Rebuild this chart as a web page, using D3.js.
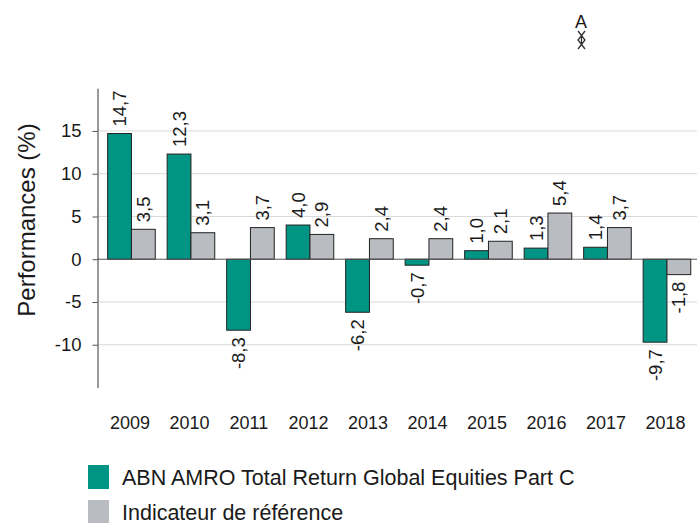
<!DOCTYPE html>
<html lang="en">
	<head>
		<meta charset="utf-8">
		<title>performances</title>
		<script type="text/javascript" src="https://d3js.org/d3.v7.min.js"></script>
		<style type="text/css">
            body{margin:0;background:#fff;font-family:"Liberation Sans",Arial,sans-serif;}
            svg{display:block;}
            text{fill:#1a1a1a;}
		</style>
	</head>
	<body>
    <div id="chart1"></div>
		<script type="text/javascript">
            var years = ["2009","2010","2011","2012","2013","2014","2015","2016","2017","2018"]
            var fundValues = [14.7,12.3,-8.3,4.0,-6.2,-0.7,1.0,1.3,1.4,-9.7]
            var indexValues = [3.5,3.1,3.7,2.9,2.4,2.4,2.1,5.4,3.7,-1.8]
            var seriesNames = ["ABN AMRO Total Return Global Equities Part C","Indicateur de référence"]
            var seriesColors = ["#009484","#b9bcc1"]
            var yTicks = [-10,-5,0,5,10,15]

            var w = 700
            var h = 523
            var svg = d3.select("#chart1").append("svg").attr("width",w).attr("height",h)

            var yScale = d3.scaleLinear().domain([-15,20]).range([387.5,88.2])
            var xScale = d3.scaleBand().domain(years).range([101.7,696.7]).paddingInner(0.2).paddingOuter(0.1)
            var subScale = d3.scaleBand().domain([0,1]).range([0,xScale.bandwidth()])

            //gridlines
            svg.append("g").selectAll("line")
                .data(yTicks.filter(function(d){return d!=0}))
                .enter().append("line")
                .attr("x1",97.5).attr("x2",697)
                .attr("y1",function(d){return yScale(d)})
                .attr("y2",function(d){return yScale(d)})
                .attr("stroke","#d9d9d9").attr("stroke-width",1)

            //bars
            var groups = [fundValues,indexValues]
            groups.forEach(function(values,s){
                svg.append("g").selectAll("rect")
                    .data(values)
                    .enter().append("rect")
                    .attr("x",function(d,i){return xScale(years[i])+subScale(s)})
                    .attr("y",function(d){return yScale(Math.max(d,0))})
                    .attr("width",subScale.bandwidth())
                    .attr("height",function(d){return Math.abs(yScale(d)-yScale(0))})
                    .attr("fill",seriesColors[s])
                    .attr("stroke","#222").attr("stroke-width",1)

                //value labels, rotated
                svg.append("g").selectAll("text")
                    .data(values)
                    .enter().append("text")
                    .attr("transform",function(d,i){
                        var x = xScale(years[i])+subScale(s)+subScale.bandwidth()/2+6.5
                        var y = d>=0 ? yScale(d)-7 : yScale(d)+7
                        return "translate("+x+","+y+") rotate(-90)"
                    })
                    .attr("text-anchor",function(d){return d>=0 ? "start" : "end"})
                    .attr("font-size",18.5)
                    .text(function(d){return d.toFixed(1).replace(".",",")})
            })

            //zero line and left axis
            svg.append("line").attr("x1",97.5).attr("x2",697)
                .attr("y1",yScale(0)).attr("y2",yScale(0))
                .attr("stroke","#555").attr("stroke-width",1)
            var yAxis = d3.axisLeft(yScale).tickValues(yTicks).tickSizeInner(5).tickSizeOuter(0).tickPadding(11).tickFormat(function(d){return String(d)})
            var yG = svg.append("g").attr("transform","translate(97.5,0)").call(yAxis)
            yG.select(".domain").attr("stroke","#333").attr("stroke-width",1)
            yG.selectAll("line").attr("stroke","#555")
            yG.selectAll("text").attr("font-size",18.5).attr("font-family","Liberation Sans").attr("fill","#1a1a1a")

            //years
            var xAxis = d3.axisBottom(xScale).tickSize(0).tickPadding(0)
            var xG = svg.append("g").attr("transform","translate(-1.5,416)").call(xAxis)
            xG.select(".domain").remove()
            xG.selectAll("text").attr("font-size",18).attr("font-family","Liberation Sans").attr("fill","#1a1a1a")

            svg.append("text")
                .attr("transform","translate(34.5,220) rotate(-90)")
                .attr("text-anchor","middle")
                .attr("font-size",24)
                .text("Performances (%)")

            //legend
            var legendY = d3.scalePoint().domain(seriesNames).range([465,500])
            var legend = svg.append("g").selectAll("g")
                .data(seriesNames)
                .enter().append("g")
                .attr("transform",function(d){return "translate(88,"+legendY(d)+")"})
            legend.append("rect").attr("width",21).attr("height",24)
                .attr("fill",function(d,i){return seriesColors[i]})
            legend.append("text").attr("x",34).attr("y",20).attr("font-size",21.5)
                .text(function(d){return d})

            //stray marker at the top
            svg.append("text").attr("x",581).attr("y",28).attr("text-anchor","middle")
                .attr("font-size",18).text("A")
            svg.append("path").attr("d","M578 31L585 40L578 49M585 31L578 40L585 49M581.5 34V46")
                .attr("fill","none").attr("stroke","#333").attr("stroke-width",1.3)
		</script>
	</body>
</html>
